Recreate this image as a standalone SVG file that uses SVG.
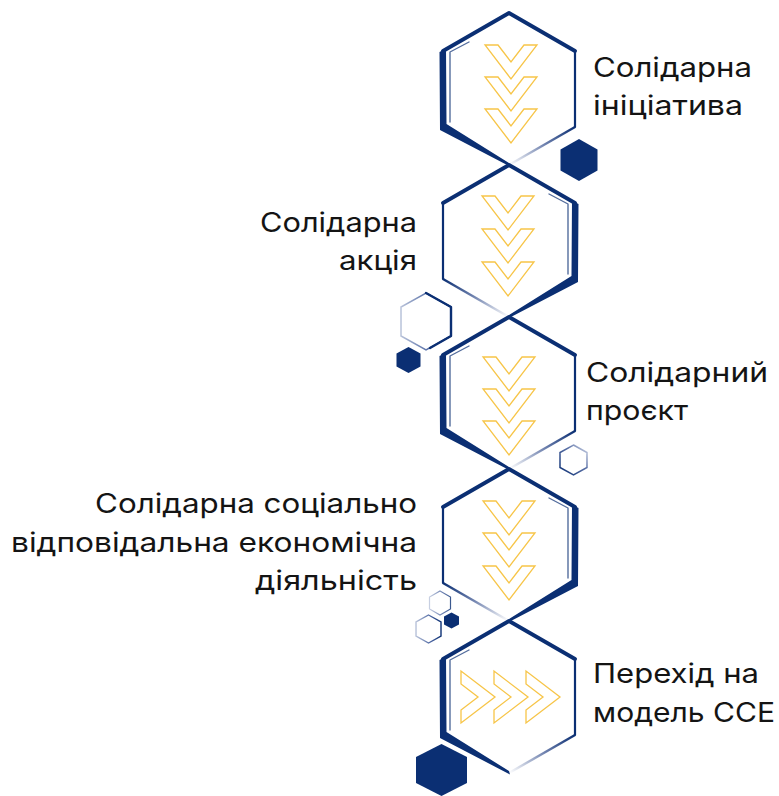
<svg xmlns="http://www.w3.org/2000/svg" width="779" height="796" viewBox="0 0 779 796">
<style>
.lbl{font-family:Inter,"Noto Sans","DejaVu Sans",sans-serif;font-size:27px;fill:#141414}
.r{text-anchor:end}
.chev{fill:none;stroke:#f7c548;stroke-width:1.3;stroke-linejoin:miter}
.nv{fill:none;stroke:#0b2f73;stroke-linejoin:round;stroke-linecap:round}
.dk{fill:#0b2f73}
</style>
<defs>
<linearGradient id="fadeBR" x1="1" y1="0" x2="0" y2="1">
<stop offset="0" stop-color="#0b2f73"/>
<stop offset="0.45" stop-color="#6d80ad"/>
<stop offset="1" stop-color="#ffffff"/>
</linearGradient>
<linearGradient id="fadeH" x1="0" y1="0" x2="1" y2="0">
<stop offset="0" stop-color="#b9c3da"/>
<stop offset="0.6" stop-color="#4a64a0"/>
<stop offset="1" stop-color="#0b2f73"/>
</linearGradient>
<linearGradient id="fadeTR" x1="0" y1="1" x2="1" y2="0">
<stop offset="0" stop-color="#0b2f73"/>
<stop offset="0.6" stop-color="#5a70a6"/>
<stop offset="1" stop-color="#d5dbea"/>
</linearGradient>
<path id="chev" d="M-26,0 L-13,0 L0,17 L13,0 L26,0 L0,34 Z" class="chev"/>
<g id="hexL">
<path class="nv" d="M-66,-38 L0,-76 L66,-38" stroke-width="3.8"/>
<path class="nv" d="M66,-38 L66,38" stroke-width="2.2"/>
<path d="M66,38 L0,76" fill="none" stroke="url(#fadeBR)" stroke-width="2.4"/>
<path class="dk" d="M-69.5,-37 L-63,-40.5 L-62.5,35 L0,74 L1,77.5 L-69,41 Z"/>
<path class="nv" d="M-40,-47 L-59,-37 L-59,33" stroke-width="1.4" stroke-opacity="0.7"/>
</g>
</defs>

<g id="connectors"></g>

<g id="step1">
<use href="#hexL" transform="translate(509,89)"/>
<use href="#chev" x="511" y="45"/>
<use href="#chev" x="511" y="77"/>
<use href="#chev" x="511" y="109"/>
<text class="lbl" x="593" y="77" textLength="159" lengthAdjust="spacingAndGlyphs">Солідарна</text>
<text class="lbl" x="593" y="115" textLength="150" lengthAdjust="spacingAndGlyphs">ініціатива</text>
</g>

<g id="step2">
<use href="#hexL" transform="translate(509,241) scale(-1,1)"/>
<use href="#chev" x="508" y="196"/>
<use href="#chev" x="508" y="229"/>
<use href="#chev" x="508" y="262"/>
<text class="lbl r" x="417" y="232" textLength="157" lengthAdjust="spacingAndGlyphs">Солідарна</text>
<text class="lbl r" x="417" y="270" textLength="78" lengthAdjust="spacingAndGlyphs">акція</text>
</g>

<g id="step3">
<use href="#hexL" transform="translate(509,393)"/>
<use href="#chev" x="509" y="357"/>
<use href="#chev" x="509" y="389"/>
<use href="#chev" x="509" y="421"/>
<text class="lbl" x="586" y="382" textLength="182" lengthAdjust="spacingAndGlyphs">Солідарний</text>
<text class="lbl" x="586" y="420" textLength="102" lengthAdjust="spacingAndGlyphs">проєкт</text>
</g>

<g id="step4">
<use href="#hexL" transform="translate(509,545) scale(-1,1)"/>
<use href="#chev" x="509" y="501"/>
<use href="#chev" x="509" y="533"/>
<use href="#chev" x="509" y="566"/>
<text class="lbl r" x="417" y="513" textLength="322" lengthAdjust="spacingAndGlyphs">Солідарна соціально</text>
<text class="lbl r" x="417" y="552" textLength="406" lengthAdjust="spacingAndGlyphs">відповідальна економічна</text>
<text class="lbl r" x="417" y="590" textLength="162" lengthAdjust="spacingAndGlyphs">діяльність</text>
</g>

<g id="step5">
<use href="#hexL" transform="translate(509,697)"/>
<use href="#chev" transform="translate(461,697) rotate(-90)"/>
<use href="#chev" transform="translate(494,697) rotate(-90)"/>
<use href="#chev" transform="translate(526,697) rotate(-90)"/>
<text class="lbl" x="593" y="683" textLength="166" lengthAdjust="spacingAndGlyphs">Перехід на</text>
<text class="lbl" x="593" y="722" textLength="182" lengthAdjust="spacingAndGlyphs">модель ССЕ</text>
</g>

<g id="decor">
<polygon class="dk" points="579,139 597.5,149.5 597.5,170.5 579,181 560.5,170.5 560.5,149.5"/>
<polygon points="426,293 451,307 451,336 426,350 401,336 401,307" fill="none" stroke="url(#fadeH)" stroke-width="1.5"/>
<path class="nv" d="M426,293 L451,307 L451,336 L430,348" stroke-width="2.4"/>
<polygon class="dk" points="408.5,347 420.5,353.5 420.5,366.5 408.5,373 396.5,366.5 396.5,353.5"/>
<polygon points="573.5,445 587,452.5 587,467.5 573.5,475 560,467.5 560,452.5" fill="none" stroke="url(#fadeTR)" stroke-width="1.5"/>
<polygon points="440,591 450.5,597 450.5,609 440,615 429.5,609 429.5,597" fill="none" stroke="url(#fadeH)" stroke-width="1.2" stroke-opacity="0.8"/>
<polygon points="428.5,615 441,622 441,636 428.5,643 416,636 416,622" fill="none" stroke="url(#fadeH)" stroke-width="1.4"/>
<polygon class="dk" points="451.5,612.5 459,616.5 459,624.5 451.5,628.5 444,624.5 444,616.5"/>
<polygon class="dk" points="441.5,744 467,757 467,783 441.5,796 416,783 416,757"/>
</g>
</svg>
